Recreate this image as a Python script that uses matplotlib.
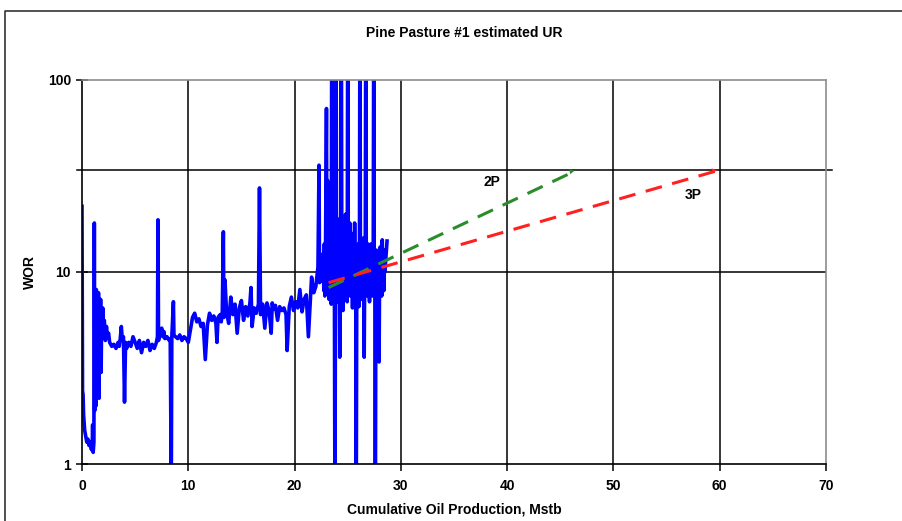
import matplotlib
matplotlib.use('Agg')
import matplotlib.pyplot as plt
from matplotlib.lines import Line2D
from matplotlib.ticker import FixedLocator, NullLocator, FixedFormatter

plt.rcParams['font.family'] = ['Liberation Sans', 'DejaVu Sans']
plt.rcParams['font.weight'] = 'bold'

# cumulative oil production (Mstb) and water-oil ratio history
cum_oil = [
    0.00, 0.05, 0.10, 0.15, 0.25, 0.35, 0.45, 0.55, 0.65, 0.75, 0.85, 0.95,
    1.00, 1.05, 1.12, 1.16, 1.20, 1.25, 1.30, 1.35, 1.40, 1.45, 1.50, 1.55,
    1.60, 1.65, 1.70, 1.75, 1.80, 1.85, 1.90, 1.95, 2.00, 2.10, 2.20, 2.30,
    2.40, 2.50, 2.60, 2.80, 3.00, 3.20, 3.40, 3.50, 3.60, 3.70, 3.80, 3.90,
    4.00, 4.10, 4.20, 4.40, 4.60, 4.80, 5.00, 5.20, 5.40, 5.60, 5.80, 6.00,
    6.20, 6.40, 6.60, 6.80, 7.00, 7.10, 7.15, 7.20, 7.30, 7.50, 7.60, 7.70,
    7.80, 8.00, 8.20, 8.30, 8.40, 8.45, 8.60, 8.65, 8.80, 9.00, 9.20, 9.40,
    9.60, 9.80, 10.0, 10.2, 10.4, 10.6, 10.8, 11.0, 11.2, 11.4, 11.6, 11.8,
    12.0, 12.2, 12.4, 12.6, 12.7, 12.8, 13.0, 13.1, 13.2, 13.3, 13.35, 13.45,
    13.6, 13.8, 14.0, 14.2, 14.4, 14.6, 14.8, 15.0, 15.2, 15.4, 15.6, 15.8,
    15.9, 16.0, 16.2, 16.4, 16.6, 16.7, 16.8, 17.0, 17.2, 17.4, 17.6, 17.8,
    17.9, 18.0, 18.2, 18.4, 18.6, 18.8, 19.0, 19.2, 19.3, 19.5, 19.7, 19.9,
    20.1, 20.3, 20.5, 20.7, 20.9, 21.1, 21.3, 21.5, 21.6, 21.8, 22.0, 22.2,
    22.3, 22.35, 22.5, 22.6, 22.7, 22.75, 22.8, 22.85, 22.9, 22.95, 23.0, 23.05,
    23.1, 23.15, 23.2, 23.25, 23.3, 23.35, 23.4, 23.45, 23.5, 23.55, 23.6, 23.65,
    23.7, 23.75, 23.8, 23.85, 23.9, 23.95, 24.0, 24.05, 24.1, 24.15, 24.2, 24.25,
    24.3, 24.35, 24.4, 24.45, 24.5, 24.55, 24.6, 24.65, 24.7, 24.75, 24.8, 24.85,
    24.9, 24.95, 25.0, 25.05, 25.1, 25.15, 25.2, 25.25, 25.3, 25.35, 25.4, 25.45,
    25.5, 25.55, 25.6, 25.65, 25.7, 25.75, 25.8, 25.85, 25.9, 25.95, 26.0, 26.05,
    26.1, 26.15, 26.2, 26.25, 26.3, 26.35, 26.4, 26.45, 26.5, 26.55, 26.6, 26.65,
    26.7, 26.75, 26.8, 26.85, 26.9, 26.95, 27.0, 27.05, 27.1, 27.15, 27.2, 27.25,
    27.3, 27.35, 27.4, 27.45, 27.5, 27.55, 27.6, 27.65, 27.7, 27.75, 27.8, 27.85,
    27.9, 27.95, 28.0, 28.05, 28.1, 28.15, 28.2, 28.25, 28.3, 28.35, 28.4, 28.45,
    28.5, 28.6, 28.7,
]
wor = [
    22.0, 2.4, 2.3, 1.8, 1.5, 1.4, 1.3, 1.35, 1.25, 1.3, 1.2, 1.18,
    1.6, 1.15, 1.3, 18.0, 1.9, 6.5, 2.0, 8.1, 2.4, 7.6, 3.5, 7.8,
    2.2, 6.8, 4.5, 7.2, 3.0, 6.0, 5.0, 6.5, 4.8, 5.6, 4.4, 5.2,
    4.6, 4.8, 4.3, 4.1, 4.2, 4.0, 4.3, 4.1, 4.5, 5.2, 4.4, 4.6,
    2.1, 4.3, 4.0, 4.3, 4.1, 4.6, 4.3, 4.0, 4.4, 3.8, 4.3, 4.1,
    4.4, 3.9, 4.2, 4.0, 4.3, 4.6, 18.7, 4.4, 4.7, 5.1, 4.6, 4.9,
    4.5, 4.6, 4.4, 4.5, 0.8, 4.6, 7.0, 4.7, 4.6, 4.5, 4.7, 4.4,
    4.6, 4.5, 4.3, 5.0, 5.8, 6.1, 5.5, 5.7, 5.2, 5.4, 3.5, 5.3,
    6.1, 5.6, 5.9, 5.4, 4.3, 5.8, 6.0, 5.5, 6.2, 16.2, 5.8, 9.1,
    6.2, 5.4, 7.4, 6.0, 6.8, 4.8, 6.5, 7.1, 5.6, 6.6, 5.9, 6.9,
    8.3, 5.2, 6.5, 6.1, 6.8, 27.4, 6.0, 6.8, 5.1, 6.9, 6.3, 4.8,
    6.9, 6.4, 6.7, 5.6, 6.6, 6.3, 6.5, 6.0, 3.9, 6.6, 7.4, 6.3,
    7.0, 6.5, 8.1, 6.2, 7.2, 7.6, 4.6, 7.5, 9.4, 7.8, 8.4, 10.6,
    36.0, 8.8, 11.0, 9.0, 12.5, 8.0, 14.0, 7.5, 10.5, 25.0, 71.0, 9.0,
    30.0, 8.0, 18.0, 7.2, 22.0, 8.5, 20.0, 6.8, 250.0, 8.0, 14.0, 9.0,
    24.0, 7.5, 0.5, 12.0, 250.0, 9.0, 19.0, 7.0, 16.0, 8.5, 12.0, 3.6,
    10.0, 21.0, 250.0, 8.0, 13.0, 6.3, 11.0, 9.0, 17.0, 7.5, 20.0, 8.8,
    13.0, 7.0, 250.0, 9.5, 14.0, 8.0, 18.0, 7.5, 16.0, 9.0, 12.0, 6.5,
    10.5, 13.0, 8.0, 18.0, 9.0, 11.0, 0.5, 7.5, 12.0, 9.0, 14.0, 6.6,
    10.0, 250.0, 8.0, 13.0, 7.2, 11.0, 9.0, 15.0, 8.0, 3.6, 10.0, 12.0,
    250.0, 8.5, 11.0, 7.5, 14.0, 9.0, 12.0, 7.0, 13.0, 8.5, 14.0, 9.0,
    11.0, 7.5, 12.0, 250.0, 8.0, 10.5, 0.5, 8.0, 13.0, 9.0, 11.0, 7.5,
    12.5, 3.4, 10.0, 13.5, 8.0, 12.0, 7.5, 14.7, 9.0, 11.5, 8.0, 13.0,
    10.0, 12.0, 14.5,
]

# economic limit WOR and reserve forecasts
econ_limit = 34.0
forecast_start = 23.2
wor_2p_start = 8.3
wor_3p_start = 8.8
ur_2p = 46.6
ur_3p = 60.0

x_ticks = [0, 10, 20, 30, 40, 50, 60, 70]
y_ticks = [1, 10, 100]

FS = 10

fig = plt.figure(figsize=(9.03, 5.21), dpi=100)
ax = fig.add_axes([82 / 903, 1 - 464 / 521, 744 / 903, 384 / 521])

# outer chart frame (left and top only)
fig.add_artist(Line2D([5 / 903, 5 / 903, 1.0], [0.0, 1 - 11 / 521, 1 - 11 / 521],
                      color='#333333', lw=1.2, transform=fig.transFigure))

ax.set_yscale('log')
ax.set_xlim(0, 70)
ax.set_ylim(1, 100)

for xv in x_ticks[1:-1]:
    ax.axvline(xv, color='black', lw=1.1, zorder=1)
ax.axhline(10, color='black', lw=1.1, zorder=1)
# economic limit line, runs a little past the plot on both sides
ax.plot([-0.5, 70.6], [econ_limit, econ_limit], color='black', lw=1.1,
        clip_on=False, zorder=1)

ax.plot(cum_oil, wor, color='#0000FF', lw=2.6, solid_joinstyle='round', zorder=2)

ax.plot([forecast_start, ur_2p], [wor_2p_start, econ_limit], color='#2A8C2A',
        lw=2.2, dashes=(5.5, 3.5), zorder=3)
ax.plot([forecast_start, ur_3p], [wor_3p_start, econ_limit], color='#FF2020',
        lw=2.2, dashes=(5.5, 3.5), zorder=3)
ax.annotate('', xy=(ur_2p, econ_limit), xytext=(ur_2p - 1.0, econ_limit * 0.97),
            arrowprops=dict(arrowstyle='-|>', color='#2A8C2A', lw=0, mutation_scale=9),
            zorder=4)
ax.annotate('', xy=(ur_3p, econ_limit), xytext=(ur_3p - 1.0, econ_limit * 0.985),
            arrowprops=dict(arrowstyle='-|>', color='#FF2020', lw=0, mutation_scale=9),
            zorder=4)
ax.text(38.6, 29.4, '2P', fontsize=FS, fontweight='bold', ha='center', va='center')
ax.text(57.5, 25.2, '3P', fontsize=FS, fontweight='bold', ha='center', va='center')

ax.xaxis.set_major_locator(FixedLocator(x_ticks))
ax.yaxis.set_major_locator(FixedLocator(y_ticks))
ax.yaxis.set_minor_locator(NullLocator())
ax.yaxis.set_major_formatter(FixedFormatter([str(v) for v in y_ticks]))
ax.tick_params(axis='x', direction='out', length=5, width=1.1, labelsize=FS, pad=6)
ax.tick_params(axis='y', direction='inout', length=8, width=1.1, labelsize=FS, pad=4)
for lbl in ax.get_xticklabels() + ax.get_yticklabels():
    lbl.set_fontweight('bold')

for side in ['left', 'bottom']:
    ax.spines[side].set_color('black')
    ax.spines[side].set_linewidth(1.2)
for side in ['top', 'right']:
    ax.spines[side].set_color('#8c8c8c')
    ax.spines[side].set_linewidth(1.2)

ax.set_xlabel('Cumulative Oil Production, Mstb', fontsize=FS, fontweight='bold', labelpad=7)
ax.set_ylabel('WOR', fontsize=FS, fontweight='bold', labelpad=8)
fig.text(464 / 903, 1 - 33 / 521, 'Pine Pasture #1 estimated UR', fontsize=FS,
         fontweight='bold', ha='center', va='center')

fig.savefig('out.png', dpi=100)
